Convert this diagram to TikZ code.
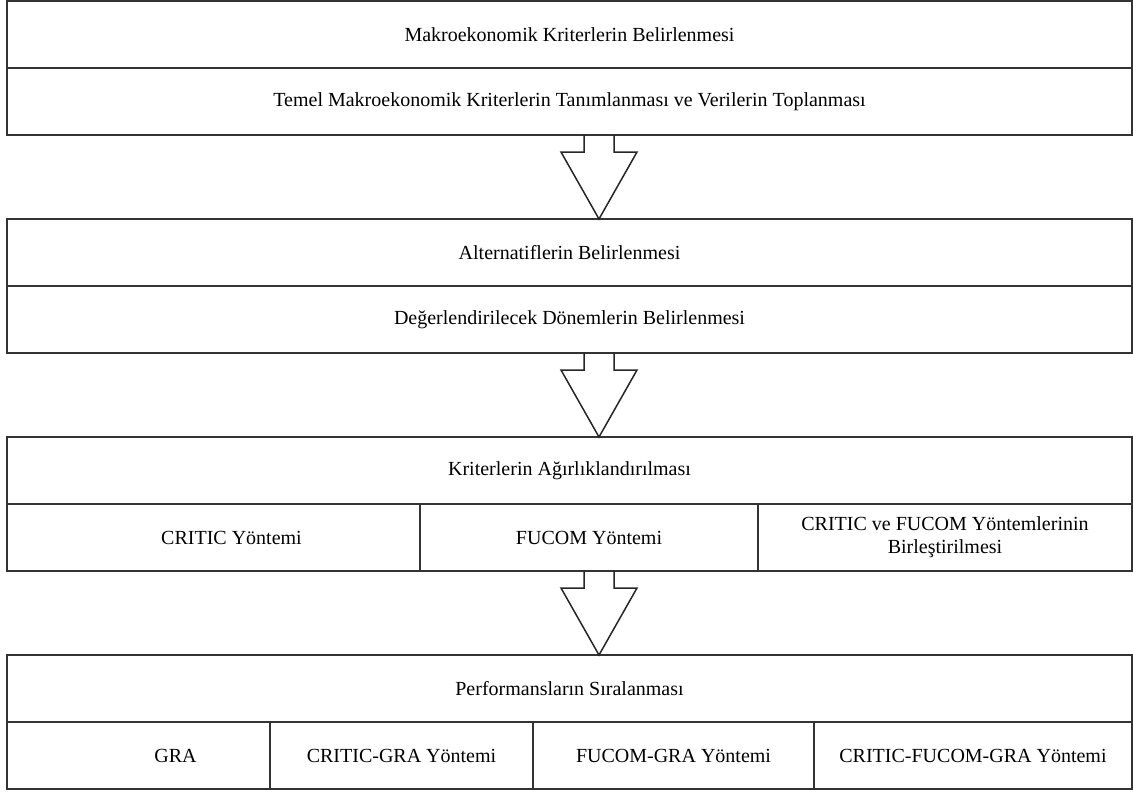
\documentclass[tikz,border=0pt]{standalone}
\usepackage{fontspec}
\setmainfont{Liberation Serif}
\usetikzlibrary{positioning}
\begin{document}
\begin{tikzpicture}[
        x=1pt, y=1pt,
        every node/.style={rectangle, draw=black!80, line width=1.6pt, inner sep=0pt, outer sep=0pt, minimum height=67pt, align=center, font=\fontsize{20}{23}\selectfont},
        row/.style={minimum width=1125pt},
        hollow/.style={draw=black!85, line width=1.5pt, line join=miter}
    ]
    \useasboundingbox (0,0) rectangle (1133,-792);

    % makroekonomik kriterler
    \node[row, anchor=north west] (makro) at (7,-1) {Makroekonomik Kriterlerin Belirlenmesi};
    \node[row, below=0pt of makro] (temel) {Temel Makroekonomik Kriterlerin Tanımlanması ve Verilerin Toplanması};

    % alternatifler
    \node[row, below=84pt of temel] (alt) {Alternatiflerin Belirlenmesi};
    \node[row, below=0pt of alt] (donem) {Değerlendirilecek Dönemlerin Belirlenmesi};

    % agirliklandirma
    \node[row, below=84pt of donem] (agirlik) {Kriterlerin Ağırlıklandırılması};
    \node[minimum width=413pt, anchor=north west] (critic) at (agirlik.south west) {\hspace*{36pt}CRITIC Yöntemi};
    \node[minimum width=338pt, right=0pt of critic] (fucom) {FUCOM Yöntemi};
    \node[minimum width=374pt, right=0pt of fucom] (birlesik) {CRITIC ve FUCOM Yöntemlerinin\\Birleştirilmesi};

    % siralama
    \node[row, below=84pt of agirlik.south, yshift=-67pt] (perf) {Performansların Sıralanması};
    \node[minimum width=263pt, anchor=north west] (gra) at (perf.south west) {\hspace*{74pt}GRA};
    \node[minimum width=263pt, right=0pt of gra] (cgra) {CRITIC-GRA Yöntemi};
    \node[minimum width=281pt, right=0pt of cgra] (fgra) {FUCOM-GRA Yöntemi};
    \node[minimum width=318pt, right=0pt of fgra] (cfgra) {CRITIC-FUCOM-GRA Yöntemi};

    % block arrows
    \coordinate (a1) at ([xshift=29.5pt]temel.south);
    \coordinate (a2) at ([xshift=29.5pt]donem.south);
    \coordinate (a3) at ([xshift=29.5pt]critic.south -| agirlik.south);
    \foreach \a in {a1,a2,a3}
        \draw[hollow] (\a) ++(-15,0) -- ++(0,-17) -- ++(-23,0) -- ++(38,-67) -- ++(38,67) -- ++(-23,0) -- ++(0,17);
\end{tikzpicture}
\end{document}
